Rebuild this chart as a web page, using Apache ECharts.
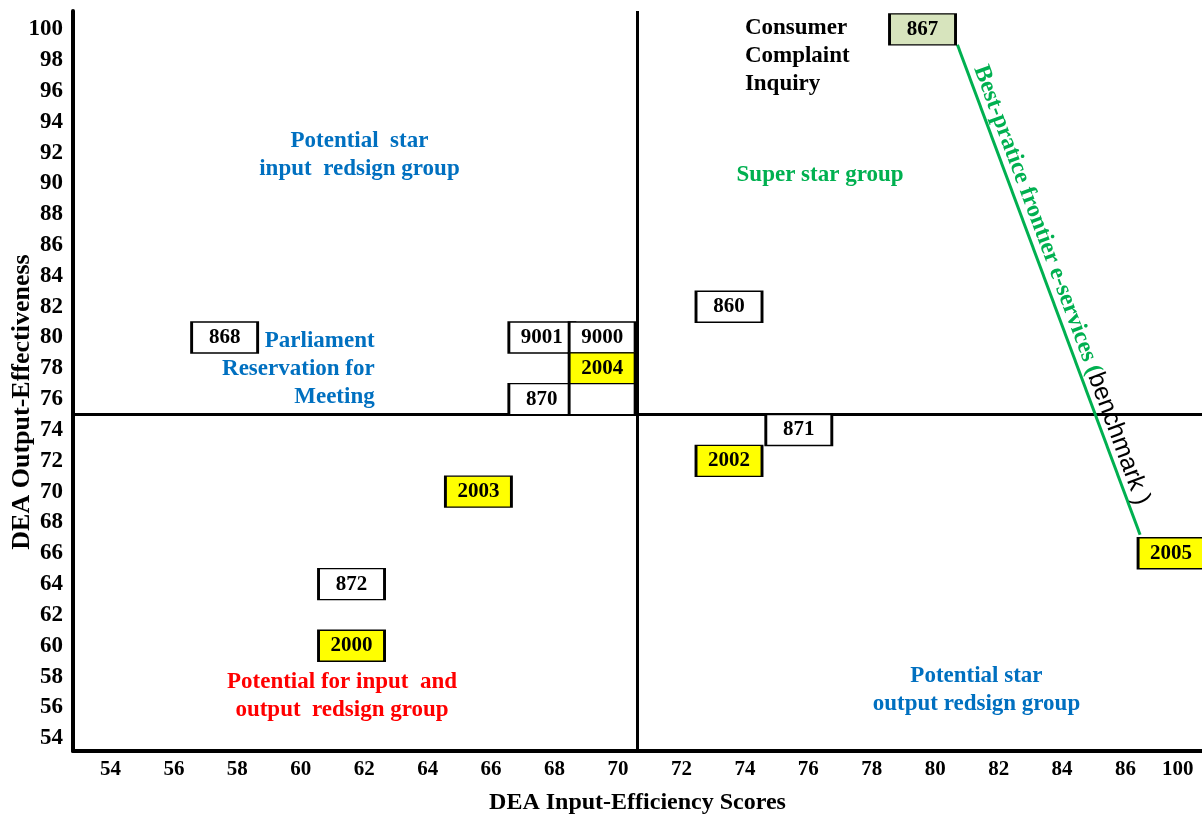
<!DOCTYPE html>
<html>
<head>
<meta charset="utf-8">
<script src="https://cdn.jsdelivr.net/npm/echarts@6/dist/echarts.min.js"></script>
<style>
html,body{margin:0;padding:0;background:#fff;}
#chart{width:1202px;height:816px;}
</style>
</head>
<body>
<div id="chart"></div>
<script>
// ---- data ----
const xTicks = [54, 56, 58, 60, 62, 64, 66, 68, 70, 72, 74, 76, 78, 80, 82, 84, 86, 100];
const yTicks = [54, 56, 58, 60, 62, 64, 66, 68, 70, 72, 74, 76, 78, 80, 82, 84, 86, 88, 90, 92, 94, 96, 98, 100];

const boxNames = ['868', '9001', '9000', '2004', '870', '', '860', '871', '2002', '2003', '872', '2000', '867', '2005'];
const boxX     = [57.6, 67.6, 69.5, 69.5, 67.6, 69.5, 73.5, 75.7, 73.5, 65.6, 61.6, 61.6, 79.6, 98.2];
const boxY     = [80, 80, 80, 78, 76, 76, 82, 74, 72, 70, 64, 60, 100, 66];
const boxKind  = ['unit', 'unit', 'unit', 'year', 'unit', 'unit', 'unit', 'unit', 'year', 'year', 'unit', 'year', 'best', 'year'];

const frontierX = [80.7, 89.9];
const frontierY = [99.0, 67.2];

const quadrantX = 70.6;
const quadrantY = 75;

const noteTexts = [
  'Potential  star\ninput  redsign group',
  'Parliament\nReservation for\nMeeting',
  'Consumer\nComplaint\nInquiry',
  'Super star group',
  'Potential for input  and\noutput  redsign group',
  'Potential star\noutput redsign group'
];
const noteX = [61.85, 62.33, 74.0, 76.37, 61.3, 81.3];
const noteY = [91.84, 77.96, 98.27, 90.54, 56.71, 57.1];
const noteKind = ['blueC', 'blueR', 'blackL', 'greenC', 'redC', 'blueC'];

// ---- styles ----
const SERIF = '"Liberation Serif", "Times New Roman", serif';
const fillByKind = { unit: '#ffffff', year: '#ffff00', best: '#d7e4bd' };
const noteStyle = {
  blueC:  { color: '#0070c0', align: 'center' },
  blueR:  { color: '#0070c0', align: 'right' },
  blackL: { color: '#000000', align: 'left' },
  greenC: { color: '#00b050', align: 'center' },
  redC:   { color: '#ff0000', align: 'center' }
};

// piecewise axis mapping (the axis jumps from 86 straight to 100)
function toAxis(v) { return v <= 86 ? v : 86 + (v - 86) / 8.5; }

const boxData = boxNames.map((n, i) => ({
  name: n,
  value: [toAxis(boxX[i]), boxY[i]],
  itemStyle: { color: fillByKind[boxKind[i]] }
}));

const noteData = noteTexts.map((t, i) => ({
  name: t,
  value: [toAxis(noteX[i]), noteY[i]],
  label: { color: noteStyle[noteKind[i]].color, align: noteStyle[noteKind[i]].align }
}));

const chart = echarts.init(document.getElementById('chart'));
chart.setOption({
  animation: false,
  backgroundColor: '#fff',
  grid: { left: 73, right: 0, top: 11, bottom: 65, containLabel: false, outerBoundsMode: 'none' },
  xAxis: {
    type: 'value',
    min: 52.82, max: 88.41,
    axisLine: { show: true, onZero: false, lineStyle: { color: '#000', width: 4 } },
    axisTick: { show: false },
    splitLine: { show: false },
    axisLabel: {
      customValues: xTicks.map(toAxis),
      formatter: function (v) {
        const i = xTicks.findIndex(t => Math.abs(toAxis(t) - v) < 1e-6);
        return i >= 0 ? String(xTicks[i]) : '';
      },
      color: '#000', fontFamily: SERIF, fontWeight: 'bold', fontSize: 21, margin: 8
    },
    name: 'DEA Input-Efficiency Scores',
    nameLocation: 'middle', nameGap: 40, nameMoveOverlap: false,
    nameTextStyle: { color: '#000', fontFamily: SERIF, fontWeight: 'bold', fontSize: 24 }
  },
  yAxis: {
    type: 'value',
    min: 53.17, max: 101.19,
    axisLine: { show: true, onZero: false, lineStyle: { color: '#000', width: 4 } },
    axisTick: { show: false },
    splitLine: { show: false },
    axisLabel: {
      customValues: yTicks,
      color: '#000', fontFamily: SERIF, fontWeight: 'bold', fontSize: 23, margin: 10
    },
    name: 'DEA Output-Effectiveness',
    nameLocation: 'middle', nameGap: 38, nameRotate: 90, nameMoveOverlap: false,
    nameTextStyle: { color: '#000', fontFamily: SERIF, fontWeight: 'bold', fontSize: 26, padding: [0, 42, 0, 0] }
  },
  series: [
    {
      type: 'line',
      name: 'quadrants',
      data: [],
      silent: true,
      z: 1,
      markLine: {
        silent: true,
        symbol: 'none',
        label: { show: false },
        lineStyle: { color: '#000', width: 3, type: 'solid' },
        data: [{ xAxis: toAxis(quadrantX) }, { yAxis: quadrantY }]
      }
    },
    {
      type: 'line',
      name: 'frontier',
      data: [],
      silent: true,
      z: 2,
      markLine: {
        silent: true,
        symbol: 'none',
        lineStyle: { color: '#00b050', width: 3, type: 'solid' },
        label: {
          show: true,
          position: 'middle',
          distance: 1,
          formatter: '{g|Best-pratice frontier e-services (}{k|benchmark )}',
          rich: {
            g: { color: '#00b050', fontFamily: SERIF, fontWeight: 'bold', fontSize: 24 },
            k: { color: '#000', fontFamily: '"Liberation Sans", Arial, sans-serif', fontSize: 25 }
          }
        },
        data: [[
          { coord: [toAxis(frontierX[0]), frontierY[0]] },
          { coord: [toAxis(frontierX[1]), frontierY[1]] }
        ]]
      }
    },
    {
      type: 'scatter',
      name: 'boxes',
      z: 5,
      symbol: 'rect',
      symbolSize: [66, 31],
      itemStyle: { borderColor: '#000', borderWidth: 2, opacity: 1 },
      label: {
        show: true, position: 'inside',
        formatter: '{b}',
        color: '#000', fontFamily: SERIF, fontWeight: 'bold', fontSize: 21
      },
      emphasis: { disabled: true },
      data: boxData
    },
    {
      type: 'scatter',
      name: 'notes',
      z: 6,
      symbolSize: 1,
      itemStyle: { color: 'rgba(0,0,0,0)', opacity: 1 },
      label: {
        show: true, position: 'inside',
        formatter: '{b}',
        verticalAlign: 'middle',
        opacity: 1,
        fontFamily: SERIF, fontWeight: 'bold', fontSize: 23, lineHeight: 28
      },
      labelLayout: { hideOverlap: false },
      emphasis: { disabled: true },
      data: noteData
    }
  ]
});
</script>
</body>
</html>
